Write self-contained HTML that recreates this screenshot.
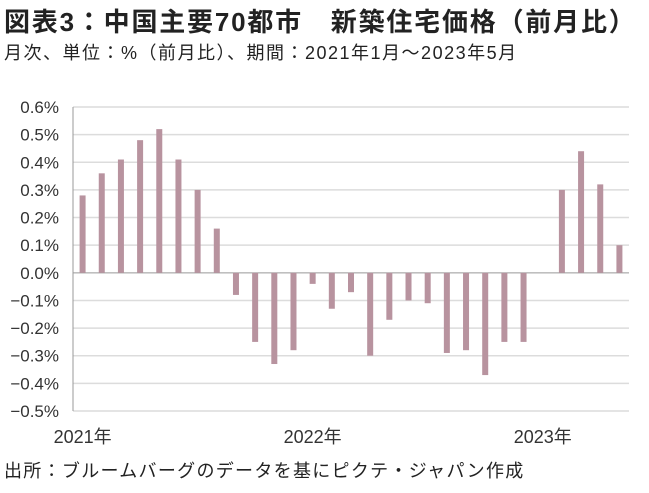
<!DOCTYPE html>
<html><head><meta charset="utf-8"><style>
body{margin:0;width:649px;height:493px;background:#fff;font-family:"Liberation Sans","Noto Sans CJK JP",sans-serif;color:#222;overflow:hidden;position:relative}
.t{position:absolute;white-space:nowrap}
</style></head><body>
<div class="t" style="left:4px;top:2px;font-size:26px;font-weight:bold;letter-spacing:1.8px">図表3：中国主要70都市　新築住宅価格（前月比）</div>
<div class="t" style="left:4px;top:39px;font-size:18px;letter-spacing:1.5px">月次、単位：%（前月比）、期間：2021年1月～2023年5月</div>
<svg id="c" width="649" height="493" style="position:absolute;left:0;top:0"></svg>
<div class="t" style="left:4px;top:457px;font-size:18px;letter-spacing:1.3px">出所：ブルームバーグのデータを基にピクテ・ジャパン作成</div>
<script>
const months=["2021-01","2021-02","2021-03","2021-04","2021-05","2021-06","2021-07","2021-08","2021-09","2021-10","2021-11","2021-12","2022-01","2022-02","2022-03","2022-04","2022-05","2022-06","2022-07","2022-08","2022-09","2022-10","2022-11","2022-12","2023-01","2023-02","2023-03","2023-04","2023-05"];
const values=[0.28,0.36,0.41,0.48,0.52,0.41,0.30,0.16,-0.08,-0.25,-0.33,-0.28,-0.04,-0.13,-0.07,-0.30,-0.17,-0.10,-0.11,-0.29,-0.28,-0.37,-0.25,-0.25,null,0.30,0.44,0.32,0.10];
const yTicks=[0.6,0.5,0.4,0.3,0.2,0.1,0.0,-0.1,-0.2,-0.3,-0.4,-0.5];
const xLabels=[{i:0,t:"2021年"},{i:12,t:"2022年"},{i:24,t:"2023年"}];
const svg=document.getElementById('c');const NS="http://www.w3.org/2000/svg";
const L=73,R=629,T=107,B=411,ymax=0.6,ymin=-0.5;
const y=v=>T+(ymax-v)/(ymax-ymin)*(B-T);
const band=(R-L)/months.length;const x=i=>L+band*(i+0.5);
function mk(tag,a){const e=document.createElementNS(NS,tag);for(const k in a)e.setAttribute(k,a[k]);svg.appendChild(e);return e;}
yTicks.forEach(v=>{
 const g=mk('line',{x1:L,x2:R,y1:y(v),y2:y(v),stroke:v===0?'#999':'#dcdcdc','stroke-width':v===0?1:1.5});
 
 
 const t=mk('text',{x:L-14,y:y(v)+6,'text-anchor':'end','font-size':17,fill:'#333'});
 t.textContent=(v<0?'−':'')+Math.abs(v).toFixed(1)+'%';
 
 
});
const ax=mk('line',{x1:L,x2:L,y1:T,y2:B,stroke:'#999','stroke-width':1});


values.forEach((v,i)=>{
 if(v===null)return;
 const y0=y(0),y1=y(v);
 const r=mk('rect',{x:x(i)-3,y:Math.min(y0,y1),width:6,height:Math.abs(y1-y0),fill:'#b8939f'});
 
 
});
xLabels.forEach(o=>{
 const t=mk('text',{x:x(o.i),y:B+32,'text-anchor':'middle','font-size':18,fill:'#333'});
 t.textContent=o.t;
 
 
});
</script>
</body></html>
